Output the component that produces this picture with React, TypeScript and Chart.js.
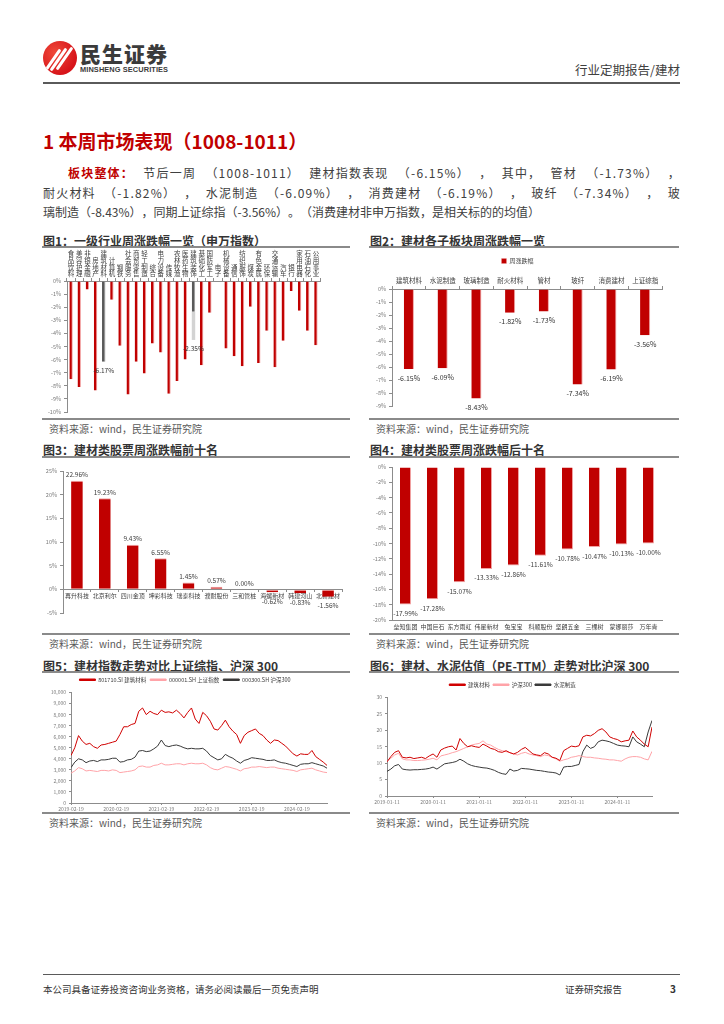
import React, { useEffect, useRef } from 'react';
import { Chart, registerables } from 'chart.js';

Chart.register(...registerables);

const FONT = '"Noto Sans CJK SC", "Noto Sans", sans-serif';
const RED = '#c00000';
const RED_EDGE = '#f2a3a3';
const DARK_GRAY = '#5a5a5a';
const TICK = '#7a7a7a';
const AXIS = '#8c8c8c';

// ---------- Fig1: 申万一级行业周涨跌幅 ----------
const fig1Industries = ['食品饮料', '美容护理', '非银金融', '房地产', '建筑材料', '计算机', '钢铁', '社会服务', '商贸零售', '轻工制造', '综合', '电力设备', '传媒', '农林牧渔', '医药生物', '建筑装饰', '基础化工', '国防军工', '电子', '机械设备', '通信', '纺织服饰', '煤炭', '有色金属', '环保', '交通运输', '汽车', '银行', '家用电器', '石油石化', '公用事业'];
const fig1Change = [-7.5, -8.1, -0.64, -8.35, -6.17, -1.43, -4.95, -8.67, -6.17, -7.07, -4.77, -5.46, -8.6, -7.63, -6.0, -2.35, -6.43, -2.42, 0, -5.15, -5.74, -6.5, -1.96, -6.25, -3.8, -6.58, -4.57, -0.77, -2.27, -3.8, -4.9];
const fig1Shade = [null, null, null, null, null, null, null, null, null, null, null, null, null, null, null, -2.15, null, null, null, null, null, null, null, null, null, null, null, null, null, null, null];
const fig1Highlight = ['建筑材料', '建筑装饰'];
const fig1LabelText = ['', '', '', '', '-6.17%', '', '', '', '', '', '', '', '', '', '', '-2.35%', '', '', '', '', '', '', '', '', '', '', '', '', '', '', ''];
const fig1YTicks = [0, -1, -2, -3, -4, -5, -6, -7, -8, -9, -10];

// ---------- Fig2: 建材各子板块周涨跌幅 ----------
const fig2Sectors = ['建筑材料', '水泥制造', '玻璃制造', '耐火材料', '管材', '玻纤', '消费建材', '上证综指'];
const fig2Change = [-6.15, -6.09, -8.43, -1.82, -1.73, -7.34, -6.19, -3.56];

// ---------- Fig3: 周涨幅前十 ----------
const fig3Stocks = ['再升科技', '北京利尔', '四川金顶', '坤彩科技', '瑞泰科技', '濮耐股份', '三和管桩', '海螺新材', '韩建河山', '北新建材'];
const fig3Change = [22.96, 19.23, 9.43, 6.55, 1.45, 0.57, 0.0, -0.62, -0.83, -1.56];

// ---------- Fig4: 周跌幅前十 ----------
const fig4Stocks = ['垒知集团', '中国巨石', '东方雨虹', '伟星新材', '兔宝宝', '科顺股份', '坚朗五金', '三棵树', '蒙娜丽莎', '万年青'];
const fig4Change = [-17.99, -17.28, -15.07, -13.33, -12.86, -11.61, -10.78, -10.47, -10.13, -10.0];

// ---------- Fig5: 指数走势 (monthly, 2019-02 ~ 2024-10) ----------
const fig5TickLabels = ['2019-02-19', '2020-02-19', '2021-02-19', '2022-02-19', '2023-02-19', '2024-02-19'];
const fig5SeriesNames = ['801710.SI 建筑材料', '000001.SH 上证指数', '000300.SH 沪深300'];
const fig5Building = [4300, 5000, 6100, 5600, 5300, 5400, 5100, 4950, 5250, 5300, 5400, 5500,
  5600, 6200, 6900, 6900, 7100, 7200, 8300, 8600, 8000, 8300, 8100, 8000,
  8400, 8200, 8250, 8150, 8400, 8100, 7700, 8200, 8600, 7600, 7200, 8200,
  7900, 7400, 6700, 6600, 7000, 7500, 6900, 6500, 6200, 5400, 6100, 6400,
  6550, 6700, 6300, 6100, 5700, 5400, 5700, 5650, 5400, 5150, 4800, 4450,
  4250, 4450, 4400, 4400, 4750, 4200, 3950, 3700, 3400];
const fig5SSE = [2700, 2900, 3200, 3100, 2900, 2950, 2900, 2850, 2950, 2950, 2900, 3000,
  2950, 2750, 2800, 2850, 2900, 3000, 3300, 3350, 3250, 3250, 3400, 3450,
  3600, 3450, 3450, 3500, 3550, 3550, 3450, 3550, 3600, 3550, 3550, 3600,
  3450, 3200, 3050, 3000, 3150, 3300, 3250, 3150, 3050, 2900, 3100, 3150,
  3250, 3250, 3300, 3250, 3200, 3250, 3250, 3150, 3100, 3050, 3000, 2950,
  2850, 3000, 3050, 3100, 3150, 3000, 2900, 2800, 2750];
const fig5HS300 = [3200, 3700, 4000, 3900, 3650, 3800, 3850, 3750, 3900, 3900, 3950, 4050,
  4050, 3700, 3750, 3900, 3950, 4150, 4700, 4750, 4650, 4700, 4900, 5150,
  5700, 5200, 5100, 5200, 5250, 5150, 5000, 4900, 4950, 4900, 4900, 4950,
  4700, 4300, 4100, 3900, 4000, 4400, 4200, 4050, 3800, 3600, 3850, 3950,
  4100, 4050, 4000, 3950, 3850, 3850, 3900, 3750, 3650, 3600, 3500, 3400,
  3300, 3500, 3550, 3550, 3650, 3550, 3450, 3350, 3150];

// ---------- Fig6: PE-TTM (monthly, 2019-01 ~ 2024-10) ----------
const fig6TickLabels = ['2019-01-11', '2020-01-11', '2021-01-11', '2022-01-11', '2023-01-11', '2024-01-11'];
const fig6SeriesNames = ['建筑材料', '沪深300', '水泥制造'];
const fig6Building = [10.4, 12.0, 13.3, 13.8, 11.8, 11.6, 11.8, 11.4, 11.6, 11.8, 11.4, 12.2,
  12.8, 11.8, 14.0, 14.6, 15.0, 15.2, 14.0, 17.5, 16.0, 15.0, 15.3, 15.0,
  14.8, 15.8, 15.2, 14.5, 14.2, 13.5, 13.3, 13.8, 13.2, 12.8, 13.3, 14.2,
  14.8, 13.8, 12.8, 12.5, 12.3, 13.2, 12.8, 11.8, 11.5, 10.8, 13.8, 14.5,
  15.2, 15.0, 15.3, 18.0, 18.5, 18.3, 19.0, 20.0, 20.5, 19.5, 18.0, 17.5,
  17.2, 16.5, 16.8, 17.0, 19.8, 18.0, 17.0, 15.8, 15.0, 21.0];
const fig6Pink = [10.6, 11.5, 12.5, 13.0, 11.3, 11.0, 11.0, 10.8, 10.8, 10.9, 11.0, 11.2,
  11.5, 11.0, 12.2, 12.5, 12.8, 13.2, 13.5, 14.0, 14.5, 15.0, 15.5, 15.8,
  16.0, 16.8, 15.8, 15.5, 14.8, 14.2, 13.8, 13.5, 13.2, 12.8, 12.5, 13.0,
  13.3, 12.8, 12.5, 12.3, 12.0, 12.5, 12.3, 11.8, 11.3, 10.6, 11.0, 11.3,
  11.8, 12.0, 12.3, 12.0, 11.8, 11.8, 11.6, 11.5, 11.3, 11.2, 11.0, 11.0,
  10.8, 10.6, 11.3, 11.8, 12.0, 12.0, 11.8, 11.3, 11.0, 13.6];
const fig6Black = [7.5, 8.2, 9.2, 9.6, 8.2, 8.0, 7.9, 8.0, 8.0, 8.1, 8.2, 8.4,
  8.8, 8.2, 9.0, 9.8, 10.0, 10.2, 10.5, 11.2, 10.6, 9.8, 9.3, 9.0,
  8.8, 8.6, 8.5, 8.2, 7.8, 7.2, 6.8, 6.6, 8.2, 7.6, 7.8, 8.4,
  8.3, 8.2, 8.0, 7.8, 7.7, 7.5, 7.3, 7.2, 7.0, 6.4, 8.8, 9.0,
  9.0, 9.3, 9.6, 13.5, 15.5, 14.5, 15.0, 16.5, 17.0, 16.8, 16.5, 16.0,
  15.5, 15.3, 15.2, 15.0, 18.0, 16.5, 15.8, 15.0, 19.5, 23.0];

// ---------- paragraph text ----------
const paraLine1 = ['节后一周', '（1008-1011）', '建材指数表现', '（-6.15%）', '，', '其中，', '管材', '（-1.73%）', '，'];
const paraLine2 = ['耐火材料', '（-1.82%）', '，', '水泥制造', '（-6.09%）', '，', '消费建材', '（-6.19%）', '，', '玻纤', '（-7.34%）', '，', '玻'];
const paraLine3 = '璃制造（-8.43%），同期上证综指（-3.56%）。（消费建材非申万指数，是相关标的的均值）';

// ---------- value-label plugin ----------
const barLabelPlugin = {
  id: 'barLabels',
  afterDatasetsDraw(chart: any, _args: any, opts: any) {
    if (!opts || !opts.enabled) return;
    const ctx = chart.ctx;
    const yScale = chart.scales.y;
    const n = chart.data.labels.length;
    ctx.save();
    ctx.font = `${opts.size || 7}px ${FONT}`;
    ctx.fillStyle = opts.color || '#333';
    ctx.textAlign = 'center';
    ctx.textBaseline = 'middle';
    for (let i = 0; i < n; i++) {
      const text = opts.texts ? opts.texts[i] : null;
      if (opts.texts && !text) continue;
      let total = 0;
      chart.data.datasets.forEach((d: any) => { const v = d.data[i]; if (typeof v === 'number') total += v; });
      const x = chart.getDatasetMeta(0).data[i].x;
      const end = yScale.getPixelForValue(total);
      const label = text || `${total.toFixed(2)}%`;
      const gapDown = opts.gapDown ?? 8;
      const gapUp = opts.gapUp ?? 6;
      const y = total < 0 ? end + gapDown : end - gapUp;
      ctx.fillText(label, x, y);
    }
    ctx.restore();
  },
};
Chart.register(barLabelPlugin);

Chart.defaults.font.family = FONT;

const tickFont = (size: number) => ({ size, family: FONT });

function ChartBox({ left, top, width, height, make }: any) {
  const ref = useRef<HTMLCanvasElement | null>(null);
  useEffect(() => {
    const chart = new Chart(ref.current as HTMLCanvasElement, make());
    return () => chart.destroy();
  }, []);
  return (
    <div style={{ position: 'absolute', left, top, width, height }}>
      <canvas ref={ref} />
    </div>
  );
}

const pct = (v: any) => `${v}%`;

function makeFig1(): any {
  return {
    type: 'bar',
    data: {
      labels: fig1Industries.map((s) => s.split('')),
      datasets: [
        {
          data: fig1Change,
          backgroundColor: fig1Industries.map((n) => (fig1Highlight.includes(n) ? DARK_GRAY : RED)),
          borderColor: fig1Industries.map((n) => (fig1Highlight.includes(n) ? '#9a9a9a' : RED_EDGE)),
          borderWidth: { right: 1, left: 0, top: 0, bottom: 0 },
          borderSkipped: false,
          barPercentage: 0.42,
          categoryPercentage: 1,
          stack: 's',
        },
        {
          data: fig1Shade,
          backgroundColor: '#d3d3d3',
          barPercentage: 0.42,
          categoryPercentage: 1,
          stack: 's',
        },
      ],
    },
    options: {
      animation: false,
      responsive: true,
      maintainAspectRatio: false,
      layout: { padding: { top: 0, right: 30, bottom: 7, left: 0 } },
      plugins: {
        legend: { display: false },
        tooltip: { enabled: false },
        barLabels: { enabled: true, texts: fig1LabelText, size: 6.5, color: '#333', gapDown: 9 },
      },
      scales: {
        x: {
          stacked: true,
          position: 'top',
          grid: { drawOnChartArea: false, tickLength: 3, color: AXIS },
          border: { color: AXIS },
          ticks: { font: { size: 6.5, family: FONT, lineHeight: 1.02 }, color: '#404040', maxRotation: 0, autoSkip: false, padding: 1 },
          afterFit: (s: any) => { s.height = 32; },
        },
        y: {
          stacked: true,
          min: -10,
          max: 0,
          afterBuildTicks: (s: any) => { s.ticks = fig1YTicks.map((v) => ({ value: v })); },
          ticks: { callback: pct, font: tickFont(5.5), color: TICK, padding: 3 },
          grid: { drawOnChartArea: false, tickLength: 3, color: AXIS },
          border: { color: AXIS },
          afterFit: (s: any) => { s.width = 24; },
        },
      },
    },
  };
}

function makeFig2(): any {
  return {
    type: 'bar',
    data: {
      labels: fig2Sectors,
      datasets: [
        {
          label: '周涨跌幅',
          data: fig2Change,
          backgroundColor: RED,
          borderColor: RED_EDGE,
          borderWidth: { right: 1, left: 0, top: 0, bottom: 0 },
          borderSkipped: false,
          barPercentage: 0.3,
          categoryPercentage: 1,
        },
      ],
    },
    options: {
      animation: false,
      responsive: true,
      maintainAspectRatio: false,
      layout: { padding: { top: 5, right: 18, bottom: 13, left: 0 } },
      plugins: {
        legend: { display: true, position: 'top', labels: { boxWidth: 5, boxHeight: 5, padding: 4, font: tickFont(6), color: '#404040' } },
        tooltip: { enabled: false },
        barLabels: { enabled: true, size: 7, color: '#333', gapDown: 9 },
      },
      scales: {
        x: {
          position: 'top',
          grid: { drawOnChartArea: false, tickLength: 3, color: AXIS },
          border: { color: AXIS },
          ticks: { font: tickFont(6.5), color: '#404040', maxRotation: 0, autoSkip: false, padding: 2 },
          afterFit: (s: any) => { s.height = 15; },
        },
        y: {
          min: -9,
          max: 0,
          ticks: { stepSize: 1, callback: pct, font: tickFont(5.5), color: TICK, padding: 3 },
          grid: { drawOnChartArea: false, tickLength: 3, color: AXIS },
          border: { color: AXIS },
          afterFit: (s: any) => { s.width = 19; },
        },
      },
    },
  };
}

function makeFig3(): any {
  return {
    type: 'bar',
    data: {
      labels: fig3Stocks,
      datasets: [
        {
          data: fig3Change,
          backgroundColor: RED,
          borderColor: RED_EDGE,
          borderWidth: { top: 1, right: 0, left: 0, bottom: 0 },
          borderSkipped: false,
          barPercentage: 0.42,
          categoryPercentage: 1,
        },
      ],
    },
    options: {
      animation: false,
      responsive: true,
      maintainAspectRatio: false,
      layout: { padding: { top: 13, right: 8, bottom: 21, left: 0 } },
      plugins: {
        legend: { display: false },
        tooltip: { enabled: false },
        barLabels: { enabled: true, size: 6.5, color: '#404040', gapDown: 9, gapUp: 6 },
      },
      scales: {
        x: {
          position: { y: 0 },
          grid: { drawOnChartArea: false, tickLength: 2, color: AXIS },
          border: { color: AXIS },
          ticks: { font: tickFont(6), color: '#404040', maxRotation: 0, autoSkip: false, padding: 1 },
        },
        y: {
          min: -5,
          max: 25,
          ticks: { stepSize: 5, callback: pct, font: tickFont(5.5), color: TICK, padding: 3 },
          grid: { drawOnChartArea: false, tickLength: 3, color: AXIS },
          border: { color: AXIS },
          afterFit: (s: any) => { s.width = 20; },
        },
      },
    },
  };
}

function makeFig4(): any {
  return {
    type: 'bar',
    data: {
      labels: fig4Stocks,
      datasets: [
        {
          data: fig4Change,
          backgroundColor: RED,
          borderColor: RED_EDGE,
          borderWidth: { right: 1, left: 0, top: 0, bottom: 1 },
          borderSkipped: false,
          barPercentage: 0.41,
          categoryPercentage: 1,
        },
      ],
    },
    options: {
      animation: false,
      responsive: true,
      maintainAspectRatio: false,
      layout: { padding: { top: 9, right: 18, bottom: 0, left: 0 } },
      plugins: {
        legend: { display: false },
        tooltip: { enabled: false },
        barLabels: { enabled: true, size: 6.5, color: '#404040', gapDown: 9 },
      },
      scales: {
        x: {
          position: 'bottom',
          grid: { drawOnChartArea: false, tickLength: 0, color: AXIS },
          border: { color: AXIS },
          ticks: { font: tickFont(6), color: '#404040', maxRotation: 0, autoSkip: false, padding: 3 },
          afterFit: (s: any) => { s.height = 14; },
        },
        y: {
          min: -20,
          max: 0,
          ticks: { stepSize: 2, callback: pct, font: tickFont(5.5), color: TICK, padding: 3 },
          grid: { drawOnChartArea: false, tickLength: 3, color: AXIS },
          border: { color: AXIS },
          afterFit: (s: any) => { s.width = 19; },
        },
      },
    },
  };
}

function lineDataset(label: string, values: number[], color: string) {
  return {
    label,
    data: values.map((v, i) => ({ x: i, y: v })),
    borderColor: color,
    backgroundColor: color,
    borderWidth: 1,
    pointRadius: 0,
    tension: 0,
  };
}

function makeFig5(): any {
  return {
    type: 'line',
    data: {
      datasets: [
        lineDataset(fig5SeriesNames[0], fig5Building, '#d00000'),
        lineDataset(fig5SeriesNames[1], fig5SSE, '#ffa3a8'),
        lineDataset(fig5SeriesNames[2], fig5HS300, '#3a3a3a'),
      ],
    },
    options: {
      animation: false,
      responsive: true,
      maintainAspectRatio: false,
      layout: { padding: { top: 0, right: 23, bottom: 0, left: 0 } },
      plugins: {
        legend: { display: true, position: 'top', labels: { boxWidth: 16, boxHeight: 1.5, padding: 4, font: tickFont(5.5), color: '#404040' } },
        tooltip: { enabled: false },
      },
      scales: {
        x: {
          type: 'linear',
          min: 0,
          max: fig5Building.length - 1,
          grid: { drawOnChartArea: false, tickLength: 2, color: AXIS },
          border: { color: AXIS },
          ticks: { stepSize: 12, includeBounds: false, autoSkip: false, maxRotation: 0, font: tickFont(5), color: TICK, padding: 1, callback: (v: any) => fig5TickLabels[v / 12] ?? '' },
          afterFit: (s: any) => { s.height = 10; },
        },
        y: {
          min: 0,
          max: 10000,
          ticks: { stepSize: 1000, font: tickFont(5), color: TICK, padding: 3, callback: (v: any) => Number(v).toLocaleString('en-US') },
          grid: { drawOnChartArea: false, tickLength: 2, color: AXIS },
          border: { color: AXIS },
          afterFit: (s: any) => { s.width = 28; },
        },
      },
    },
  };
}

function makeFig6(): any {
  return {
    type: 'line',
    data: {
      datasets: [
        lineDataset(fig6SeriesNames[0], fig6Building, '#d00000'),
        lineDataset(fig6SeriesNames[1], fig6Pink, '#ffa3a8'),
        lineDataset(fig6SeriesNames[2], fig6Black, '#3a3a3a'),
      ],
    },
    options: {
      animation: false,
      responsive: true,
      maintainAspectRatio: false,
      layout: { padding: { top: 6, right: 28, bottom: 7, left: 0 } },
      plugins: {
        legend: { display: true, position: 'top', labels: { boxWidth: 16, boxHeight: 1.5, padding: 3, font: tickFont(5.5), color: '#404040' } },
        tooltip: { enabled: false },
      },
      scales: {
        x: {
          type: 'linear',
          min: 0,
          max: fig6Building.length - 1,
          grid: { drawOnChartArea: false, tickLength: 2, color: AXIS },
          border: { color: AXIS },
          ticks: { stepSize: 12, includeBounds: false, autoSkip: false, maxRotation: 0, font: tickFont(5), color: TICK, padding: 1, callback: (v: any) => fig6TickLabels[v / 12] ?? '' },
          afterFit: (s: any) => { s.height = 10; },
        },
        y: {
          min: 0,
          max: 30,
          ticks: { stepSize: 5, font: tickFont(5), color: TICK, padding: 3 },
          grid: { drawOnChartArea: false, tickLength: 2, color: AXIS },
          border: { color: AXIS },
          afterFit: (s: any) => { s.width = 14; },
        },
      },
    },
  };
}

const abs = (left: number, top: number, extra: any = {}) => ({ position: 'absolute' as const, left, top, ...extra });

function FigureFrame({ x, w, titleTop, title, lineTop, bottomTop }: any) {
  return (
    <>
      <div style={abs(x, titleTop, { fontSize: 12, fontWeight: 700, color: '#333', lineHeight: '16px', whiteSpace: 'nowrap', textSpacingTrim: 'space-all' })}>{title}</div>
      <div style={abs(x - 1, lineTop, { width: w, height: 2, background: '#8a8a8a' })} />
      <div style={abs(x - 1, bottomTop, { width: w, height: 2, background: '#8a8a8a' })} />
      <div style={abs(x + 6, bottomTop + 4, { fontSize: 10, color: '#595959', lineHeight: '14px', whiteSpace: 'nowrap' })}>资料来源：wind，民生证券研究院</div>
    </>
  );
}

const paraStyle = { fontSize: 12, color: '#404040', lineHeight: '18px', whiteSpace: 'nowrap', textSpacingTrim: 'space-all' };
const justLine = { display: 'flex', justifyContent: 'space-between', letterSpacing: 1.2 };

export default function App() {
  return (
    <div style={{ position: 'absolute', left: 0, top: 0, width: 724, height: 1024, background: '#fff', fontFamily: FONT, overflow: 'hidden' }}>
      {/* header */}
      <div style={abs(43, 41, { width: 34, height: 34, borderRadius: '50%', background: 'radial-gradient(circle at 35% 35%, #f04a3a, #d7141a 70%)', overflow: 'hidden' })}>
        {[0, 1, 2].map((k) => (
          <div key={k} style={abs(8 + k * 6, 6 - k, { width: 3, height: 27, background: '#fff', transform: 'rotate(35deg)', borderRadius: 2 })} />
        ))}
      </div>
      <div style={abs(80, 40, { fontSize: 21, fontWeight: 900, color: '#3b3b3b', letterSpacing: 1, lineHeight: '26px', whiteSpace: 'nowrap' })}>民生证券</div>
      <div style={abs(80, 66, { fontSize: 7.4, fontWeight: 700, color: '#3b3b3b', letterSpacing: 0.1, lineHeight: '8px', whiteSpace: 'nowrap', fontFamily: '"Liberation Sans Narrow", "Liberation Sans", Arial, sans-serif' })}>MINSHENG SECURITIES</div>
      <div style={abs(500, 62, { width: 180, textAlign: 'right', fontSize: 12.5, color: '#404040', lineHeight: '16px' })}>行业定期报告/建材</div>
      <div style={abs(43, 82, { width: 637, height: 2, background: '#5a5a5a' })} />

      {/* section */}
      <div style={abs(43, 129, { fontSize: 19, fontWeight: 700, color: '#c00000', lineHeight: '24px', whiteSpace: 'nowrap', textSpacingTrim: 'space-all' })}>1 本周市场表现（1008-1011）</div>
      <div style={abs(68, 164, { ...paraStyle, ...justLine, width: 613 })}>
        <span style={{ color: '#c00000', fontWeight: 700 }}>板块整体：</span>
        {paraLine1.map((s, i) => <span key={i}>{s}</span>)}
      </div>
      <div style={abs(43, 184, { ...paraStyle, ...justLine, width: 638 })}>
        {paraLine2.map((s, i) => <span key={i}>{s}</span>)}
      </div>
      <div style={abs(43, 203, paraStyle)}>{paraLine3}</div>

      {/* row 1 */}
      <FigureFrame x={43} w={308} titleTop={233} title="图1：一级行业周涨跌幅一览（申万指数）" lineTop={246} bottomTop={418} />
      <FigureFrame x={370} w={310} titleTop={233} title="图2：建材各子板块周涨跌幅一览" lineTop={246} bottomTop={418} />
      <ChartBox left={43} top={249} width={307} height={170} make={makeFig1} />
      <ChartBox left={373} top={249} width={307} height={170} make={makeFig2} />

      {/* row 2 */}
      <FigureFrame x={43} w={308} titleTop={442} title="图3：建材类股票周涨跌幅前十名" lineTop={456} bottomTop={633} />
      <FigureFrame x={370} w={310} titleTop={442} title="图4：建材类股票周涨跌幅后十名" lineTop={456} bottomTop={633} />
      <ChartBox left={43} top={458} width={307} height={176} make={makeFig3} />
      <ChartBox left={373} top={458} width={307} height={176} make={makeFig4} />

      {/* row 3 */}
      <FigureFrame x={43} w={308} titleTop={658} title="图5：建材指数走势对比上证综指、沪深 300" lineTop={671} bottomTop={812} />
      <FigureFrame x={370} w={310} titleTop={658} title="图6：建材、水泥估值（PE-TTM）走势对比沪深 300" lineTop={671} bottomTop={812} />
      <ChartBox left={43} top={673} width={307} height={140} make={makeFig5} />
      <ChartBox left={373} top={673} width={307} height={140} make={makeFig6} />

      {/* footer */}
      <div style={abs(43, 974, { width: 637, height: 1, background: '#5a5a5a' })} />
      <div style={abs(43, 982, { fontSize: 9.5, color: '#333', lineHeight: '14px', whiteSpace: 'nowrap' })}>本公司具备证券投资咨询业务资格，请务必阅读最后一页免责声明</div>
      <div style={abs(565, 982, { fontSize: 9.5, color: '#333', lineHeight: '14px', whiteSpace: 'nowrap' })}>证券研究报告</div>
      <div style={abs(670, 982, { fontSize: 10, fontWeight: 700, color: '#333', lineHeight: '14px' })}>3</div>
    </div>
  );
}
